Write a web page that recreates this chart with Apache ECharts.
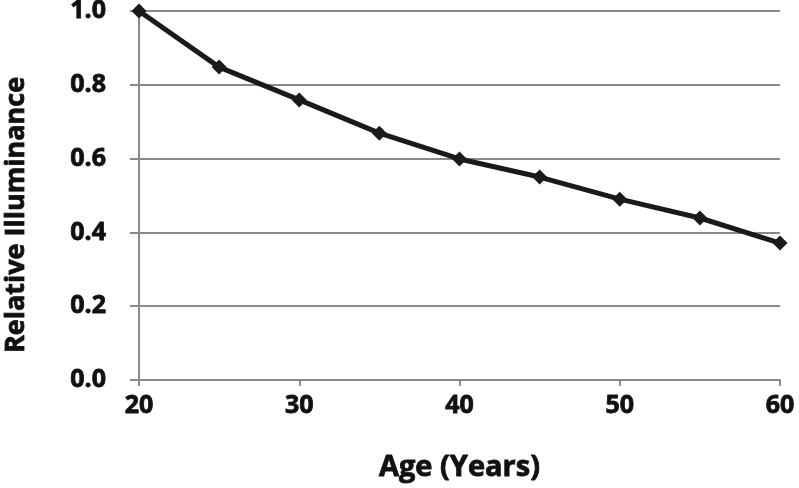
<!DOCTYPE html>
<html>
<head>
<meta charset="utf-8">
<script src="https://cdn.jsdelivr.net/npm/echarts@6/dist/echarts.min.js"></script>
<style>html,body{margin:0;padding:0;background:#fff;}#c{width:799px;height:488px;}</style>
</head>
<body>
<div id="c"></div>
<script>
const ages = [20, 25, 30, 35, 40, 45, 50, 55, 60];
const illuminance = [1.0, 0.848, 0.759, 0.669, 0.599, 0.55, 0.49, 0.439, 0.371];
const xTitle = 'Age (Years)';
const yTitle = 'Relative Illuminance';

const chart = echarts.init(document.getElementById('c'));
const font = '"Open Sans", "Liberation Sans", sans-serif';
const heavy = { textBorderColor: '#111', textBorderWidth: 0.8 };
chart.setOption({
  animation: false,
  backgroundColor: '#fff',
  grid: { left: 139, right: 19, top: 11, bottom: 108, containLabel: false, outerBoundsMode: 'none' },
  graphic: [{
    type: 'text',
    x: 16, y: 215, rotation: Math.PI / 2,
    style: {
      text: yTitle, fontFamily: font, fontWeight: 'bold', fontSize: 27, fill: '#111',
      stroke: '#111', lineWidth: 0.8,
      textAlign: 'center', textVerticalAlign: 'middle'
    }
  }],
  xAxis: {
    type: 'value', min: 20, max: 60, interval: 10,
    name: xTitle, nameLocation: 'middle', nameGap: 73,
    nameTextStyle: Object.assign({ fontFamily: font, fontWeight: 'bold', fontSize: 29, color: '#111' }, heavy),
    axisLine: { show: true, lineStyle: { color: '#8a8a8a', width: 2 } },
    axisTick: { show: true, length: 6, lineStyle: { color: '#8a8a8a', width: 2 } },
    axisLabel: Object.assign({ fontFamily: font, fontWeight: 'bold', fontSize: 25, color: '#111', margin: 13, formatter: v => String(v) }, heavy),
    splitLine: { show: false }
  },
  yAxis: {
    type: 'value', min: 0, max: 1, interval: 0.2,
    axisLine: { show: true, lineStyle: { color: '#8a8a8a', width: 2 } },
    axisTick: { show: true, length: 9, lineStyle: { color: '#8a8a8a', width: 2 } },
    axisLabel: Object.assign({ fontFamily: font, fontWeight: 'bold', fontSize: 25, color: '#111', margin: 33, formatter: v => v.toFixed(1) }, heavy),
    splitLine: { show: true, lineStyle: { color: '#8a8a8a', width: 2 } }
  },
  series: [{
    type: 'line',
    data: ages.map((a, i) => [a, illuminance[i]]),
    symbol: 'diamond', symbolSize: 15,
    lineStyle: { color: '#1a1a1a', width: 5 },
    itemStyle: { color: '#1a1a1a' },
    clip: false
  }]
});
</script>
</body>
</html>
